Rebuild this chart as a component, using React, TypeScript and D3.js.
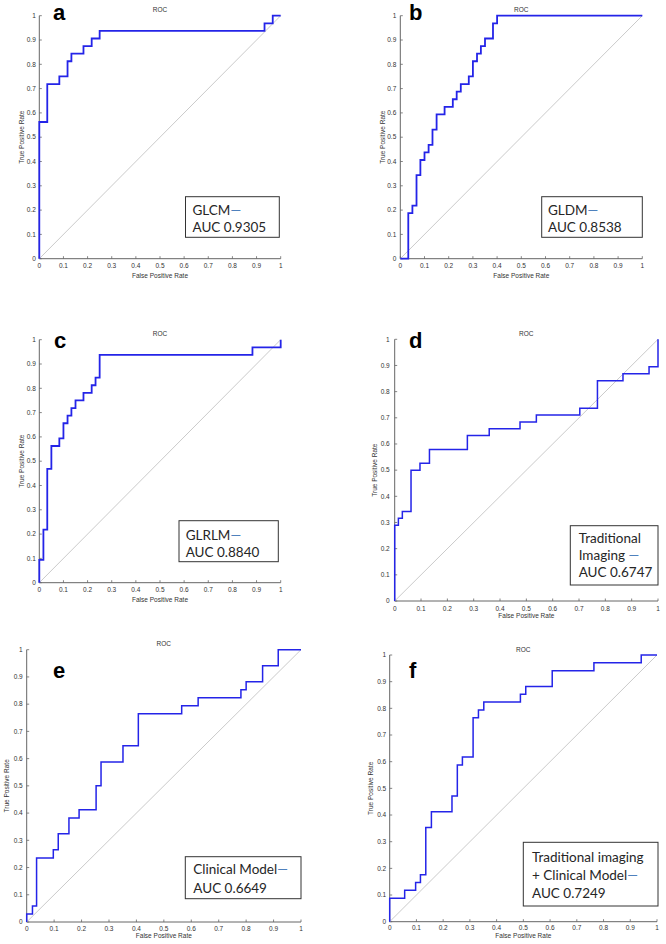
import React from "react";
import * as d3 from "d3";

// ---- data ----
const tickValues = [0, 0.1, 0.2, 0.3, 0.4, 0.5, 0.6, 0.7, 0.8, 0.9, 1];
const tickLabels = ["0", "0.1", "0.2", "0.3", "0.4", "0.5", "0.6", "0.7", "0.8", "0.9", "1"];

const aFpr = [0, 0, 0.033, 0.083, 0.117, 0.133, 0.183, 0.217, 0.25, 0.933, 0.967, 1];
const aTpr = [0, 0.5625, 0.71875, 0.75, 0.8125, 0.84375, 0.875, 0.90625, 0.9375, 0.96875, 1, 1];

const bFpr = [0, 0.033, 0.05, 0.067, 0.083, 0.1, 0.117, 0.133, 0.15, 0.183, 0.217, 0.233, 0.25, 0.283, 0.3, 0.317, 0.333, 0.35, 0.383, 0.4, 1];
const bTpr = [0, 0.1875, 0.21875, 0.34375, 0.40625, 0.4375, 0.46875, 0.53125, 0.59375, 0.625, 0.65625, 0.6875, 0.71875, 0.75, 0.8125, 0.84375, 0.875, 0.90625, 0.96875, 1, 1];

const cFpr = [0, 0, 0.017, 0.033, 0.05, 0.083, 0.1, 0.117, 0.133, 0.15, 0.183, 0.217, 0.233, 0.25, 0.883, 1];
const cTpr = [0, 0.09375, 0.21875, 0.46875, 0.5625, 0.59375, 0.65625, 0.6875, 0.71875, 0.75, 0.78125, 0.8125, 0.84375, 0.9375, 0.96875, 1];

const dFpr = [0, 0, 0.014, 0.029, 0.062, 0.096, 0.132, 0.276, 0.359, 0.476, 0.538, 0.703, 0.77, 0.867, 0.966, 1];
const dTpr = [0, 0.289, 0.316, 0.342, 0.5, 0.526, 0.579, 0.632, 0.658, 0.684, 0.711, 0.737, 0.842, 0.868, 0.895, 1];

const eFpr = [0, 0, 0.021, 0.036, 0.097, 0.115, 0.154, 0.191, 0.253, 0.271, 0.351, 0.407, 0.565, 0.625, 0.781, 0.8, 0.86, 0.917, 1];
const eTpr = [0, 0.029, 0.059, 0.235, 0.265, 0.324, 0.382, 0.412, 0.5, 0.588, 0.647, 0.765, 0.794, 0.824, 0.853, 0.882, 0.941, 1, 1];

const fFpr = [0, 0, 0.056, 0.097, 0.115, 0.135, 0.156, 0.233, 0.253, 0.272, 0.312, 0.332, 0.352, 0.489, 0.509, 0.608, 0.764, 0.941, 1];
const fTpr = [0, 0.088, 0.118, 0.147, 0.176, 0.353, 0.412, 0.471, 0.588, 0.618, 0.765, 0.794, 0.824, 0.853, 0.882, 0.941, 0.971, 1, 1];

const panelLetters = ["a", "b", "c", "d", "e", "f"];
const legendLines = [
  ["GLCM", "AUC 0.9305"],
  ["GLDM", "AUC 0.8538"],
  ["GLRLM", "AUC 0.8840"],
  ["Traditional", "Imaging ", "AUC 0.6747"],
  ["Clinical Model", "AUC 0.6649"],
  ["Traditional imaging", "+ Clinical Model", "AUC 0.7249"],
];
const dashLine = [0, 0, 0, 1, 0, 1]; // which legend line carries the dash
const curvesFpr = [aFpr, bFpr, cFpr, dFpr, eFpr, fFpr];
const curvesTpr = [aTpr, bTpr, cTpr, dTpr, eTpr, fTpr];

// ---- layout ----
type Layout = {
  x0: number; x1: number; y0: number; y1: number;
  letter: [number, number];
  box: [number, number, number, number];
  textX: number; textY: number[];
  yLabelX: number; tickLblDy: number; xLblDy: number; yTickGap: number;
  lineW: number;
};
const layouts: Layout[] = [
  { x0: 39.3, x1: 280.7, y0: 15.7, y1: 258.7, letter: [53, 20], box: [185.5, 196.7, 279.3, 237.3], textX: 192.5, textY: [215, 231.5], yLabelX: 22.7, tickLblDy: 9, xLblDy: 19, yTickGap: 3.5, lineW: 1.8 },
  { x0: 400.3, x1: 642.3, y0: 15.7, y1: 258.7, letter: [409, 20], box: [541.7, 196.7, 642.3, 237.3], textX: 548, textY: [215, 231.5], yLabelX: 383, tickLblDy: 9, xLblDy: 19, yTickGap: 4, lineW: 1.8 },
  { x0: 39.3, x1: 280.7, y0: 339.7, y1: 582.7, letter: [54, 348], box: [179, 520.7, 278.3, 561.7], textX: 185.7, textY: [540, 556.5], yLabelX: 22.7, tickLblDy: 9, xLblDy: 19, yTickGap: 3.5, lineW: 1.8 },
  { x0: 394.7, x1: 658, y0: 339.3, y1: 601, letter: [409, 348], box: [570.3, 525.7, 658, 585], textX: 578.7, textY: [542.7, 560, 577], yLabelX: 375.7, tickLblDy: 10, xLblDy: 17, yTickGap: 5, lineW: 1.5 },
  { x0: 26.7, x1: 301, y0: 649.7, y1: 922, letter: [53, 678], box: [185.3, 856.7, 301, 898.7], textX: 193.3, textY: [874.3, 892.5], yLabelX: 7.3, tickLblDy: 9, xLblDy: 16, yTickGap: 4, lineW: 1.5 },
  { x0: 389.7, x1: 657, y0: 655, y1: 921.7, letter: [409, 677.7], box: [523.3, 842.3, 658, 906], textX: 532, textY: [862.3, 880, 897.7], yLabelX: 371.3, tickLblDy: 8, xLblDy: 16, yTickGap: 3.5, lineW: 1.5 },
];

const axisFont = "'Liberation Sans', Arial, sans-serif";
const legendFont = "Lato, 'Open Sans', sans-serif";

function Panel({ i }: { i: number }) {
  const L = layouts[i];
  const x = d3.scaleLinear().domain([0, 1]).range([L.x0, L.x1]);
  const y = d3.scaleLinear().domain([0, 1]).range([L.y1, L.y0]);
  const pts: [number, number][] = curvesFpr[i].map((v, k) => [v, curvesTpr[i][k]]);
  const line = d3
    .line<[number, number]>()
    .x((d) => x(d[0]))
    .y((d) => y(d[1]))
    .curve(d3.curveStepAfter);
  const diag = d3.line<[number, number]>().x((d) => x(d[0])).y((d) => y(d[1]));
  const cx = (L.x0 + L.x1) / 2;
  const cy = (L.y0 + L.y1) / 2;
  const [bx0, by0, bx1, by1] = L.box;
  return (
    <g>
      <text x={cx} y={L.y0 - 3.5} fontSize={6.5} fontFamily={axisFont} fill="#333" textAnchor="middle">ROC</text>
      <line x1={L.x0} x2={L.x1} y1={L.y1} y2={L.y1} stroke="#666" strokeWidth={1} />
      <line x1={L.x0} x2={L.x0} y1={L.y1} y2={L.y0} stroke="#666" strokeWidth={1} />
      {tickValues.map((t, k) => (
        <g key={"xt" + k}>
          <line x1={x(t)} x2={x(t)} y1={L.y1} y2={L.y1 - 2.5} stroke="#666" strokeWidth={0.8} />
          <text x={x(t)} y={L.y1 + L.tickLblDy} fontSize={6.5} fontFamily={axisFont} fill="#333" textAnchor="middle">{tickLabels[k]}</text>
        </g>
      ))}
      {tickValues.map((t, k) => (
        <g key={"yt" + k}>
          <line x1={L.x0} x2={L.x0 + 2.5} y1={y(t)} y2={y(t)} stroke="#666" strokeWidth={0.8} />
          <text x={L.x0 - L.yTickGap} y={y(t) + 2.2} fontSize={6.5} fontFamily={axisFont} fill="#333" textAnchor="end">{tickLabels[k]}</text>
        </g>
      ))}
      <text x={cx} y={L.y1 + L.xLblDy} fontSize={6.5} fontFamily={axisFont} fill="#333" textAnchor="middle">False Positive Rate</text>
      <text transform={`translate(${L.yLabelX},${cy}) rotate(-90)`} fontSize={6.5} fontFamily={axisFont} fill="#333" textAnchor="middle" dominantBaseline="middle">True Positive Rate</text>
      <path d={diag([[0, 0], [1, 1]]) || ""} stroke="#c4c4c4" strokeWidth={0.9} fill="none" />
      <path d={line(pts) || ""} stroke="#2424e8" strokeWidth={L.lineW} fill="none" />
      <text x={L.letter[0]} y={L.letter[1]} fontSize={22} fontWeight="bold" fontFamily={axisFont} fill="#000">{panelLetters[i]}</text>
      <rect x={bx0} y={by0} width={bx1 - bx0} height={by1 - by0} fill="#fff" stroke="#333" strokeWidth={1} />
      {legendLines[i].map((s, k) => (
        <text key={"lg" + k} x={L.textX} y={L.textY[k]} fontSize={13.5} fontFamily={legendFont} fill="#262626">
          {s}
          {k === dashLine[i] ? <tspan fill="#4f81bd">—</tspan> : null}
        </text>
      ))}
    </g>
  );
}

export default function App() {
  return (
    <svg width={666} height={944} style={{ position: "absolute", left: 0, top: 0, background: "#fff" }}>
      <rect x={0} y={0} width={666} height={944} fill="#fff" />
      {layouts.map((_, i) => (
        <Panel key={i} i={i} />
      ))}
    </svg>
  );
}
